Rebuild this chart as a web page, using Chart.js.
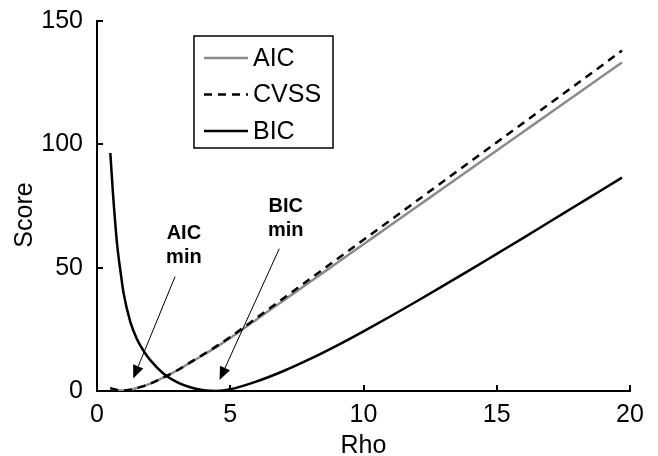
<!DOCTYPE html>
<html>
<head>
<meta charset="utf-8">
<script src="https://cdn.jsdelivr.net/npm/chart.js@4.4.0/dist/chart.umd.min.js"></script>
<style>
html, body { margin: 0; padding: 0; background: #fff; }
#wrap { width: 658px; height: 456px; }
</style>
</head>
<body>
<div id="wrap"><canvas id="scoreChart" width="658" height="456"></canvas></div>
<script>
// ===== Data =====
const rho = [0.5, 0.6, 0.75, 0.9, 1, 1.25, 1.5, 1.75, 2, 2.5, 3, 3.5, 4, 4.5, 5, 6, 7, 8, 9, 10,
    11, 12, 13, 14, 15, 16, 17, 18, 19, 19.7];
const aicScore = [1.2, 0.8, 0.4, 0.25, 0.2, 0.5, 1.2, 2.0, 3, 5.5, 8.3, 11.5, 14.7, 18, 21.5, 29.1, 36.7, 44.3, 51.9, 59.5,
    67.1, 74.7, 82.3, 89.9, 97.5, 105.1, 112.7, 120.3, 127.9, 133.2];
const cvssScore = [1.2, 0.8, 0.4, 0.25, 0.2, 0.5, 1.2, 2.0, 3, 5.5, 8.3, 11.6, 14.9, 18.3, 21.9, 29.7, 37.6, 45.5, 53.4, 61.3,
    69.2, 77.1, 85.0, 92.9, 100.8, 108.7, 116.6, 124.5, 132.4, 138.0];
const bicScore = [96.5, 80, 60, 47, 39.5, 28, 21, 16.2, 12.5, 7, 3.6, 1.5, 0.35, 0.05, 0.7, 3.9, 8.1, 13.0, 18.4, 24.2,
    30.2, 36.4, 42.7, 49.1, 55.6, 62.1, 68.7, 75.3, 81.9, 86.5];

const xTickValues = [0, 5, 10, 15, 20];
const yTickValues = [0, 50, 100, 150];
const seriesLabels = ['AIC', 'CVSS', 'BIC'];
const xTitle = 'Rho';
const yTitle = 'Score';

// text + arrow notes, in data units (rho, score)
const noteText = [['AIC', 'min'], ['BIC', 'min']];
const noteTextAt = [[3.26, 61.7], [7.08, 72.7]];
const noteArrowFrom = [[2.93, 46.4], [6.84, 57.7]];
const noteArrowTo = [[1.36, 5.1], [4.6, 4.5]];

const FONT = '"Liberation Sans", Arial, Helvetica, sans-serif';

function toPoints(values) {
    return rho.map((r, i) => ({ x: r, y: values[i] }));
}

// Inward ticks, legend box, axis titles and the arrow notes
const decorPlugin = {
    id: 'decor',
    afterDraw(chart) {
        const { ctx, chartArea: a, scales: { x, y } } = chart;
        ctx.save();

        // ticks pointing into the plot
        ctx.strokeStyle = '#000';
        ctx.lineWidth = 2;
        ctx.beginPath();
        xTickValues.forEach(v => {
            const px = Math.round(x.getPixelForValue(v));
            ctx.moveTo(px, a.bottom);
            ctx.lineTo(px, a.bottom - 6);
        });
        yTickValues.forEach(v => {
            const py = Math.round(y.getPixelForValue(v));
            ctx.moveTo(a.left, py);
            ctx.lineTo(a.left + 6, py);
        });
        ctx.stroke();

        // axis titles
        ctx.fillStyle = '#000';
        ctx.font = '25px ' + FONT;
        ctx.textAlign = 'center';
        ctx.textBaseline = 'middle';
        ctx.fillText(xTitle, (a.left + a.right) / 2, a.bottom + 55);
        ctx.save();
        ctx.translate(a.left - 72, (a.top + a.bottom) / 2 + 9);
        ctx.rotate(-Math.PI / 2);
        ctx.fillText(yTitle, 0, 0);
        ctx.restore();

        // legend
        const lx = a.left + 97, ly = a.top + 15;
        ctx.fillStyle = '#fff';
        ctx.fillRect(lx, ly, 139, 112);
        ctx.strokeStyle = '#000';
        ctx.lineWidth = 1.5;
        ctx.strokeRect(lx, ly, 139, 112);
        chart.data.datasets.forEach((ds, i) => {
            const ry = ly + 22 + i * 36.5;
            ctx.beginPath();
            ctx.strokeStyle = ds.borderColor;
            ctx.lineWidth = ds.borderWidth;
            ctx.setLineDash(ds.borderDash || []);
            ctx.moveTo(lx + 10, ry);
            ctx.lineTo(lx + 54, ry);
            ctx.stroke();
            ctx.setLineDash([]);
            ctx.fillStyle = '#000';
            ctx.font = '25px ' + FONT;
            ctx.textAlign = 'left';
            ctx.textBaseline = 'middle';
            ctx.fillText(ds.label, lx + 59, ry + 1);
        });

        // notes with arrows
        noteText.forEach((lines, i) => {
            ctx.fillStyle = '#000';
            ctx.font = 'bold 20px ' + FONT;
            ctx.textAlign = 'center';
            ctx.textBaseline = 'alphabetic';
            const tx = x.getPixelForValue(noteTextAt[i][0]);
            const ty = y.getPixelForValue(noteTextAt[i][1]);
            lines.forEach((t, k) => ctx.fillText(t, tx, ty + k * 24.3));

            const x0 = x.getPixelForValue(noteArrowFrom[i][0]);
            const y0 = y.getPixelForValue(noteArrowFrom[i][1]);
            const x1 = x.getPixelForValue(noteArrowTo[i][0]);
            const y1 = y.getPixelForValue(noteArrowTo[i][1]);
            const ang = Math.atan2(y1 - y0, x1 - x0);
            const headLen = 13, headHalf = 5.5;
            const bx = x1 - headLen * Math.cos(ang), by = y1 - headLen * Math.sin(ang);
            ctx.strokeStyle = '#000';
            ctx.lineWidth = 1;
            ctx.beginPath();
            ctx.moveTo(x0, y0);
            ctx.lineTo(bx, by);
            ctx.stroke();
            ctx.beginPath();
            ctx.moveTo(x1, y1);
            ctx.lineTo(bx + headHalf * Math.sin(ang), by - headHalf * Math.cos(ang));
            ctx.lineTo(bx - headHalf * Math.sin(ang), by + headHalf * Math.cos(ang));
            ctx.closePath();
            ctx.fill();
        });

        ctx.restore();
    }
};

const ctx = document.getElementById('scoreChart').getContext('2d');
new Chart(ctx, {
    type: 'line',
    data: {
        datasets: [{
            label: seriesLabels[0],
            data: toPoints(aicScore),
            borderColor: '#8a8a8a',
            borderWidth: 2.5,
            order: 3
        }, {
            label: seriesLabels[1],
            data: toPoints(cvssScore),
            borderColor: '#000',
            borderWidth: 2.5,
            borderDash: [8, 6],
            order: 2
        }, {
            label: seriesLabels[2],
            data: toPoints(bicScore),
            borderColor: '#000',
            borderWidth: 2.5,
            order: 1
        }]
    },
    options: {
        responsive: false,
        animation: false,
        devicePixelRatio: 1,
        layout: { padding: { left: 0, right: 28, top: 17, bottom: 0 } },
        elements: {
            point: { radius: 0 },
            line: { cubicInterpolationMode: 'monotone', fill: false }
        },
        plugins: {
            legend: { display: false },
            tooltip: { enabled: false }
        },
        scales: {
            x: {
                type: 'linear',
                min: 0,
                max: 20,
                afterBuildTicks: scale => { scale.ticks = xTickValues.map(v => ({ value: v })); },
                afterFit: scale => { scale.height = 65; },
                grid: { display: false },
                border: { display: true, color: '#000', width: 2 },
                ticks: {
                    color: '#000',
                    padding: 1,
                    maxRotation: 0,
                    font: { family: FONT, size: 25 }
                }
            },
            y: {
                min: 0,
                max: 150,
                afterBuildTicks: scale => { scale.ticks = yTickValues.map(v => ({ value: v })); },
                afterFit: scale => { scale.width = 97; },
                grid: { display: false },
                border: { display: true, color: '#000', width: 2 },
                ticks: {
                    color: '#000',
                    padding: 6,
                    font: { family: FONT, size: 25 }
                }
            }
        }
    },
    plugins: [decorPlugin]
});
</script>
</body>
</html>
